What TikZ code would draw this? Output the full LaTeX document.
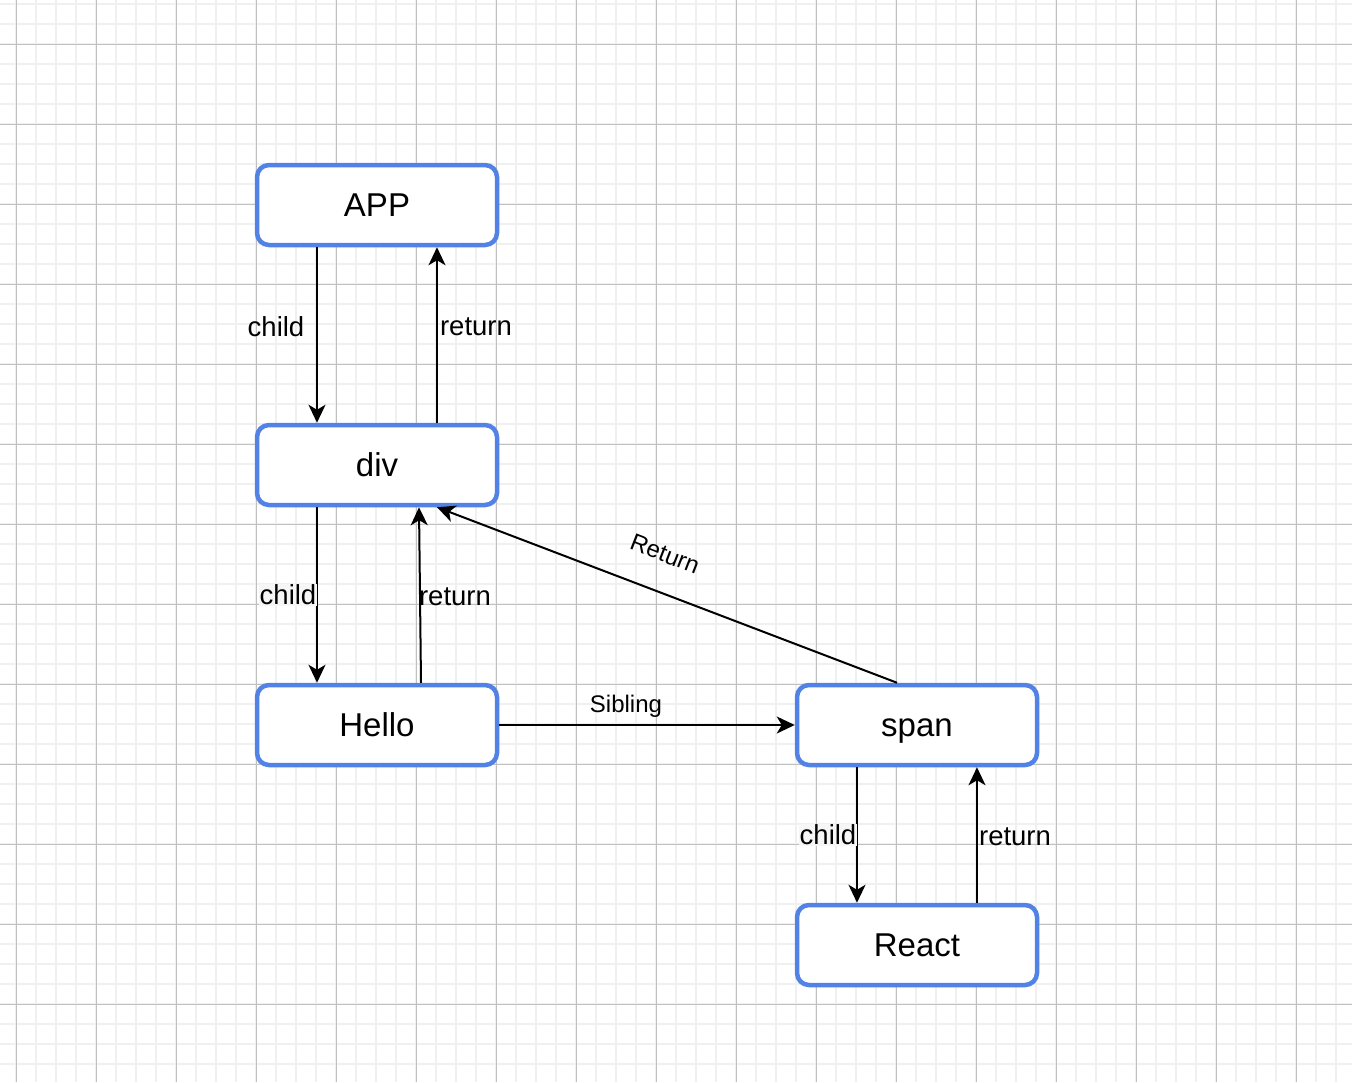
\documentclass[tikz,border=0pt]{standalone}
\usepackage{fontspec}
\setmainfont{Liberation Sans}
\usetikzlibrary{arrows.meta}
\definecolor{boxblue}{RGB}{82,130,230}
\definecolor{gridmajor}{RGB}{192,192,192}
\definecolor{gridminor}{RGB}{240,240,240}
\definecolor{lblbg}{RGB}{246,246,246}
\begin{document}
\begin{tikzpicture}[x=1pt,y=-1pt,
  fiber/.style={draw=boxblue, line width=4.5pt, fill=white, rounded corners=12pt,
    minimum width=240pt, minimum height=80pt, inner sep=0pt,
    text height=23pt, text depth=0pt,
    font=\fontsize{33}{38}\selectfont},
  link/.style={draw=black, line width=2pt,
    -{Stealth[length=18pt,width=17pt,inset=5pt]}},
  lbl/.style={inner sep=1pt, font=\fontsize{27.5}{32}\selectfont},
  lblsmall/.style={inner sep=1pt, font=\fontsize{24}{28}\selectfont},
  lblfill/.style={lbl, fill=lblbg}
]
\useasboundingbox (0,0) rectangle (1352,1082);
\fill[white] (0,0) rectangle (1352,1082);
% background grid: fine lines every 20, heavy lines every 80
\foreach \gx in {-4,16,...,1352} \draw[gridminor, line width=2pt] (\gx,0) -- (\gx,1082);
\foreach \gy in {4,24,...,1082} \draw[gridminor, line width=2pt] (0,\gy) -- (1352,\gy);
\foreach \gx in {16,96,...,1352} \draw[gridmajor, line width=1pt] (\gx,0) -- (\gx,1082);
\foreach \gy in {44,124,...,1082} \draw[gridmajor, line width=1pt] (0,\gy) -- (1352,\gy);

% fiber nodes
\node[fiber] (app)   at (377,205) {APP};
\node[fiber] (div)   at (377,465) {div};
\node[fiber] (hello) at (377,725) {Hello};
\node[fiber] (span)  at (917,725) {span};
\node[fiber] (react) at (917,945) {React};

% APP <-> div
\draw[link] ([xshift=-60pt]app.south) -- ([xshift=-60pt]div.north);
\draw[link] ([xshift=60pt]div.north) -- ([xshift=60pt]app.south);
\node[lbl] (l1) at (276,327) {child};
\node[lbl] (l2) at (476,327) {return};

% div <-> Hello
\draw[link] ([xshift=-60pt]div.south) -- ([xshift=-60pt]hello.north);
\draw[link] ([xshift=44pt]hello.north) -- ([xshift=42pt]div.south);
\node[lblfill] (l3) at (288,595) {child};
\node[lbl] (l4) at (455,597) {return};

% Hello -> span, span -> div
\draw[link] (hello.east) -- (span.west);
\node[lblsmall] (l5) at (626,706) {Sibling};
\draw[link] ([xshift=-20pt]span.north) -- ([xshift=60pt]div.south);
\node[lblsmall, rotate=-21.4] (l6) at (665,554) {Return};

% span <-> React
\draw[link] ([xshift=-60pt]span.south) -- ([xshift=-60pt]react.north);
\draw[link] ([xshift=60pt]react.north) -- ([xshift=60pt]span.south);
\node[lblfill] (l7) at (828,835) {child};
\node[lbl] (l8) at (1015,837) {return};
\end{tikzpicture}
\end{document}
